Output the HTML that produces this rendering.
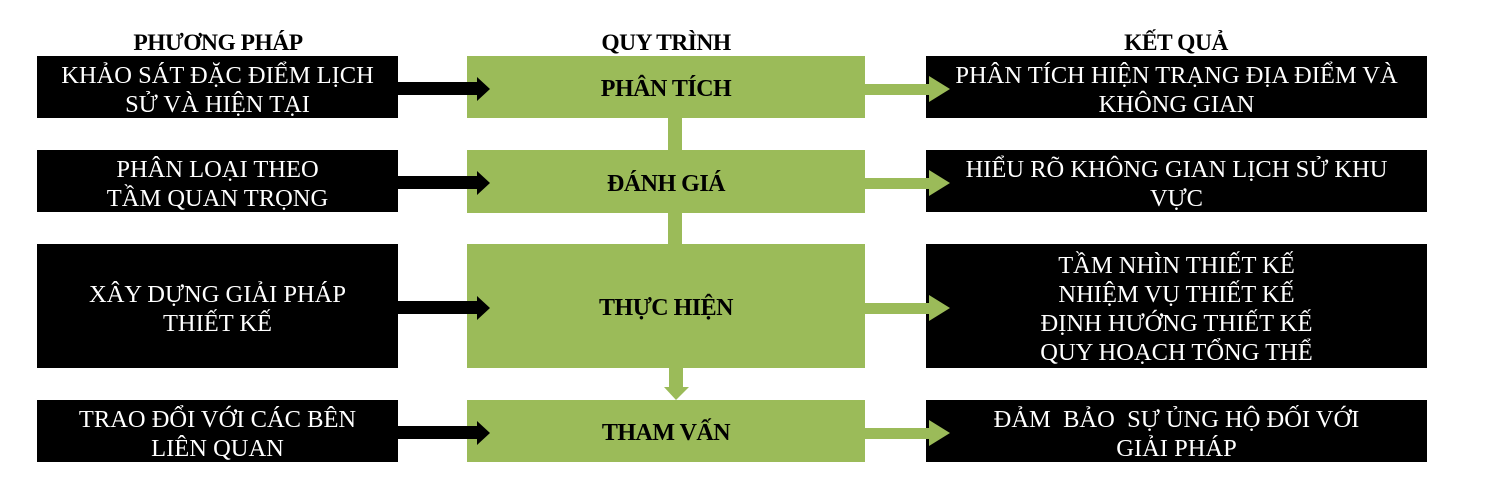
<!DOCTYPE html>
<html><head><meta charset="utf-8"><style>
body{margin:0;width:1492px;height:477px;background:#fff;position:relative;overflow:hidden;font-family:"Liberation Serif",serif}
.b{position:absolute;background:#000;color:#fff;font-size:24.5px;line-height:29px;display:flex;align-items:center;justify-content:center;text-align:center;white-space:nowrap;box-sizing:border-box;padding-top:6px}
.g{position:absolute;background:#9bbb59;color:#000;font-weight:bold;font-size:24px;display:flex;align-items:center;justify-content:center;letter-spacing:-0.5px;box-sizing:border-box;padding-top:5px}
.h{position:absolute;top:30px;font-weight:bold;font-size:23.5px;text-align:center;width:400px;letter-spacing:-0.5px}
svg{position:absolute;left:0;top:0}
</style></head><body>
<div class="h" style="left:18px">PHƯƠNG PHÁP</div>
<div class="h" style="left:466px">QUY TRÌNH</div>
<div class="h" style="left:976px">KẾT QUẢ</div>

<div class="b" style="left:37px;top:56px;width:361px;height:62px">KHẢO SÁT ĐẶC ĐIỂM LỊCH<br>SỬ VÀ HIỆN TẠI</div>
<div class="b" style="left:37px;top:150px;width:361px;height:62px">PHÂN LOẠI THEO<br>TẦM QUAN TRỌNG</div>
<div class="b" style="left:37px;top:244px;width:361px;height:124px">XÂY DỰNG GIẢI PHÁP<br>THIẾT KẾ</div>
<div class="b" style="left:37px;top:400px;width:361px;height:62px">TRAO ĐỔI VỚI CÁC BÊN<br>LIÊN QUAN</div>

<div class="g" style="left:467px;top:56px;width:398px;height:62px">PHÂN TÍCH</div>
<div class="g" style="left:467px;top:150px;width:398px;height:63px">ĐÁNH GIÁ</div>
<div class="g" style="left:467px;top:244px;width:398px;height:124px">THỰC HIỆN</div>
<div class="g" style="left:467px;top:400px;width:398px;height:62px">THAM VẤN</div>

<div class="b" style="left:926px;top:56px;width:501px;height:62px">PHÂN TÍCH HIỆN TRẠNG ĐỊA ĐIỂM VÀ<br>KHÔNG GIAN</div>
<div class="b" style="left:926px;top:150px;width:501px;height:62px">HIỂU RÕ KHÔNG GIAN LỊCH SỬ KHU<br>VỰC</div>
<div class="b" style="left:926px;top:244px;width:501px;height:124px">TẦM NHÌN THIẾT KẾ<br>NHIỆM VỤ THIẾT KẾ<br>ĐỊNH HƯỚNG THIẾT KẾ<br>QUY HOẠCH TỔNG THỂ</div>
<div class="b" style="left:926px;top:400px;width:501px;height:62px">ĐẢM&nbsp; BẢO&nbsp; SỰ ỦNG HỘ ĐỐI VỚI<br>GIẢI PHÁP</div>

<svg width="1492" height="477">
<g fill="#9bbb59">
<rect x="668" y="118" width="14" height="32"/>
<rect x="668" y="213" width="14" height="31"/>
<polygon points="669,368 683,368 683,387 689,387 676,400 664,387 669,387"/>
</g>
<g id="a">
<polygon fill="#000" points="398,82 477,82 477,77 490,89 477,101 477,95 398,95"/>
<polygon fill="#9bbb59" points="865,84 929,84 929,76 950,89 929,102 929,95 865,95"/>
</g>
<use href="#a" y="94"/>
<use href="#a" y="219"/>
<use href="#a" y="344"/>
</svg>
</body></html>
